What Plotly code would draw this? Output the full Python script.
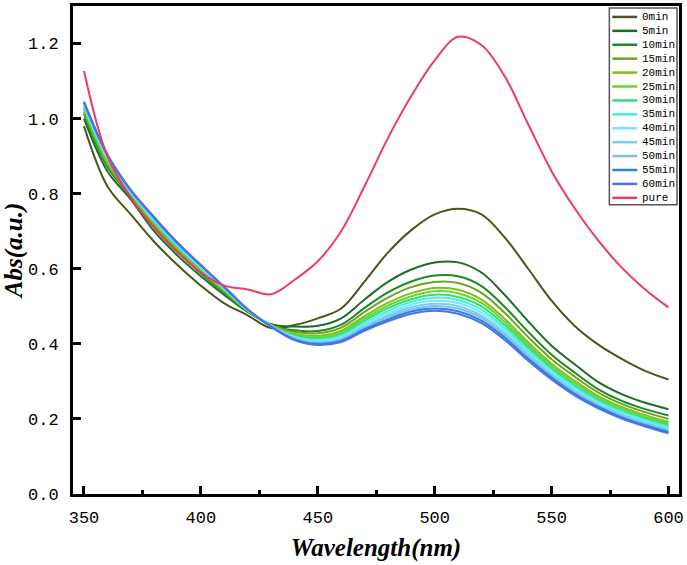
import plotly.graph_objects as go

# ---------------- data ----------------
wavelength = [350, 360, 370, 380, 390, 400, 410, 420, 430, 440, 450, 460, 470,
              480, 490, 500, 510, 520, 530, 540, 550, 560, 570, 580, 590, 600]

abs_0min = [0.980, 0.820, 0.745, 0.672, 0.610, 0.555, 0.508, 0.476, 0.442, 0.450, 0.468, 0.494, 0.566,
            0.643, 0.703, 0.745, 0.760, 0.745, 0.683, 0.600, 0.515, 0.447, 0.398, 0.360, 0.328, 0.305]
abs_5min = [1.000, 0.860, 0.785, 0.700, 0.635, 0.580, 0.530, 0.485, 0.452, 0.446, 0.448, 0.468, 0.518,
            0.565, 0.598, 0.617, 0.617, 0.590, 0.530, 0.460, 0.395, 0.345, 0.298, 0.266, 0.243, 0.226]
abs_10min = [1.012, 0.872, 0.792, 0.710, 0.644, 0.588, 0.536, 0.487, 0.450, 0.436, 0.434, 0.451, 0.496,
             0.537, 0.566, 0.582, 0.580, 0.554, 0.498, 0.432, 0.371, 0.323, 0.279, 0.248, 0.226, 0.209]
abs_15min = [1.018, 0.878, 0.795, 0.715, 0.649, 0.592, 0.539, 0.488, 0.450, 0.432, 0.428, 0.443, 0.485,
             0.523, 0.551, 0.565, 0.562, 0.536, 0.482, 0.418, 0.359, 0.312, 0.270, 0.240, 0.218, 0.200]
abs_20min = [1.024, 0.884, 0.798, 0.720, 0.654, 0.596, 0.542, 0.489, 0.449, 0.427, 0.421, 0.435, 0.474,
             0.509, 0.535, 0.549, 0.544, 0.518, 0.466, 0.404, 0.347, 0.301, 0.261, 0.232, 0.210, 0.192]
abs_25min = [1.027, 0.887, 0.800, 0.723, 0.656, 0.598, 0.543, 0.489, 0.448, 0.424, 0.417, 0.430, 0.468,
             0.502, 0.527, 0.540, 0.535, 0.509, 0.458, 0.397, 0.341, 0.295, 0.256, 0.227, 0.205, 0.188]
abs_30min = [1.030, 0.890, 0.802, 0.725, 0.658, 0.600, 0.545, 0.490, 0.448, 0.422, 0.414, 0.426, 0.462,
             0.495, 0.519, 0.531, 0.525, 0.500, 0.450, 0.390, 0.335, 0.289, 0.251, 0.222, 0.201, 0.183]
abs_35min = [1.033, 0.893, 0.803, 0.728, 0.661, 0.602, 0.546, 0.490, 0.448, 0.420, 0.411, 0.422, 0.457,
             0.488, 0.512, 0.523, 0.517, 0.491, 0.442, 0.383, 0.329, 0.284, 0.247, 0.219, 0.197, 0.179]
abs_40min = [1.036, 0.896, 0.805, 0.730, 0.663, 0.604, 0.547, 0.491, 0.447, 0.418, 0.408, 0.418, 0.452,
             0.482, 0.505, 0.515, 0.509, 0.483, 0.435, 0.377, 0.324, 0.279, 0.243, 0.215, 0.193, 0.175]
abs_45min = [1.038, 0.898, 0.806, 0.732, 0.665, 0.606, 0.549, 0.491, 0.447, 0.415, 0.405, 0.414, 0.447,
             0.476, 0.498, 0.507, 0.501, 0.475, 0.428, 0.371, 0.319, 0.274, 0.238, 0.211, 0.189, 0.172]
abs_50min = [1.041, 0.901, 0.808, 0.734, 0.667, 0.607, 0.550, 0.491, 0.447, 0.414, 0.402, 0.411, 0.443,
             0.471, 0.492, 0.501, 0.494, 0.469, 0.422, 0.366, 0.314, 0.270, 0.235, 0.207, 0.187, 0.168]
abs_55min = [1.043, 0.903, 0.809, 0.736, 0.668, 0.609, 0.551, 0.492, 0.446, 0.412, 0.400, 0.408, 0.439,
             0.465, 0.486, 0.494, 0.487, 0.462, 0.416, 0.360, 0.310, 0.266, 0.232, 0.204, 0.183, 0.165]
abs_60min = [1.045, 0.905, 0.810, 0.738, 0.670, 0.610, 0.552, 0.492, 0.446, 0.410, 0.397, 0.405, 0.435,
             0.460, 0.480, 0.488, 0.480, 0.455, 0.410, 0.355, 0.305, 0.262, 0.228, 0.201, 0.180, 0.162]
abs_pure = [1.127, 0.900, 0.790, 0.710, 0.645, 0.590, 0.555, 0.545, 0.532, 0.570, 0.620, 0.700, 0.820,
            0.948, 1.060, 1.155, 1.218, 1.196, 1.112, 0.985, 0.860, 0.760, 0.675, 0.603, 0.545, 0.497]

series_names = ["0min", "5min", "10min", "15min", "20min", "25min", "30min",
                "35min", "40min", "45min", "50min", "55min", "60min", "pure"]
series_values = [abs_0min, abs_5min, abs_10min, abs_15min, abs_20min, abs_25min, abs_30min,
                 abs_35min, abs_40min, abs_45min, abs_50min, abs_55min, abs_60min, abs_pure]
series_colors = ["#4b561c", "#1d6e25", "#1f8a1f", "#6ea327", "#7cc11d", "#6ad82a", "#34dd78",
                 "#4eecd8", "#74eaf2", "#74d2f0", "#88b8f4", "#2288cf", "#4d6ff0", "#ef3a66"]

x_ticks = [350, 400, 450, 500, 550, 600]
y_ticks = [0.0, 0.2, 0.4, 0.6, 0.8, 1.0, 1.2]

# ---------------- figure ----------------
W, H = 687, 565
ML, MR, MT, MB = 73, 5, 3, 71

fig = go.Figure()
for name, vals, col in zip(series_names, series_values, series_colors):
    fig.add_trace(go.Scatter(
        x=wavelength, y=vals, mode="lines", name=name,
        line=dict(color=col, width=2, shape="spline", smoothing=1.0),
        showlegend=False, hoverinfo="x+y+name"))

tick_font = dict(family="Liberation Mono", size=17, color="black")
title_font = dict(family="Liberation Serif", size=25, color="black")

fig.update_xaxes(
    range=[345.3, 604.5], tickmode="array", tickvals=x_ticks,
    ticks="inside", ticklen=8, tickwidth=3, tickcolor="black",
    minor=dict(dtick=25, tick0=350, ticks="inside", ticklen=4, tickwidth=3, tickcolor="black"),
    showline=True, linewidth=3, linecolor="black", mirror=True,
    showgrid=False, zeroline=False, tickfont=tick_font, ticklabelstandoff=6,
    title=dict(text="<b><i>Wavelength(nm)</i></b>", font=title_font, standoff=12))
fig.update_yaxes(
    range=[0, 1.3], tickmode="array", tickvals=y_ticks, tickformat=".1f",
    ticks="inside", ticklen=8, tickwidth=3, tickcolor="black",
    showline=True, linewidth=3, linecolor="black", mirror=True,
    showgrid=False, zeroline=False, tickfont=tick_font, ticklabelstandoff=8,
    title=dict(text="<b><i>Abs(a.u.)</i></b>", font=title_font, standoff=4))

# ---------------- hand-built compact legend ----------------
pw, ph = W - ML - MR, H - MT - MB


def px_to_paper(px, py):
    return (px - ML) / pw, (H - MB - py) / ph


shapes = []
annotations = []
bx0, by0 = px_to_paper(612, 5)
bx1, by1 = px_to_paper(680, 203)
shapes.append(dict(type="rect", xref="paper", yref="paper", x0=bx0, y0=by1, x1=bx1, y1=by0,
                   line=dict(color="#555555", width=1.5), fillcolor="white", layer="above"))
for i, (name, col) in enumerate(zip(series_names, series_colors)):
    yc = 14 + 14 * i
    lx0, ly = px_to_paper(615, yc)
    lx1, _ = px_to_paper(640, yc)
    tx, _ = px_to_paper(644, yc)
    shapes.append(dict(type="line", xref="paper", yref="paper", x0=lx0, x1=lx1, y0=ly, y1=ly,
                       line=dict(color=col, width=2.5), layer="above"))
    annotations.append(dict(xref="paper", yref="paper", x=tx, y=ly, text=name, showarrow=False,
                            xanchor="left", yanchor="middle", align="left", borderpad=0,
                            font=dict(family="Liberation Mono", size=11, color="black")))

fig.update_layout(
    width=W, height=H, margin=dict(l=ML, r=MR, t=MT, b=MB, pad=0),
    paper_bgcolor="white", plot_bgcolor="white",
    shapes=shapes, annotations=annotations, showlegend=False)

fig.write_html("out.html")
